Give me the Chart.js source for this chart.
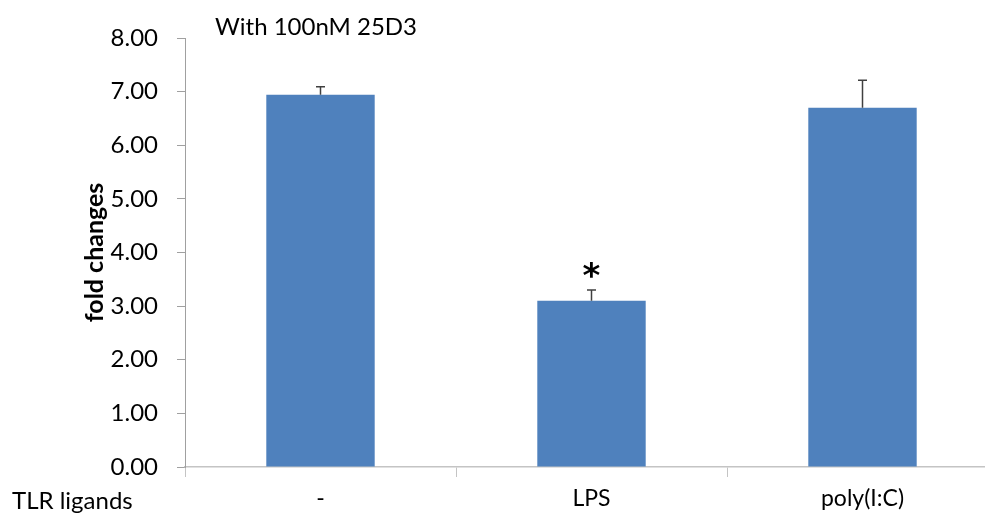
<!DOCTYPE html>
<html>
<head>
<meta charset="utf-8">
<script src="https://cdn.jsdelivr.net/npm/chart.js@4"></script>
<style>
  html, body { margin: 0; padding: 0; background: #fff; overflow: hidden; }
  #wrap { position: relative; width: 1000px; height: 516px; }
</style>
</head>
<body>
<div id="wrap"><canvas id="chart"></canvas></div>
<script>
// values
const categories = ['-', 'LPS', 'poly(I:C)'];
const foldChanges = [6.94, 3.10, 6.70];
const errorUp = [0.15, 0.20, 0.51];
const significance = ['', '*', ''];
const yTicks = [0, 1, 2, 3, 4, 5, 6, 7, 8];
const chartTitle = 'With 100nM 25D3';
const xAxisName = 'TLR ligands';
const yAxisName = 'fold changes';

const FONT = 'Lato, "Open Sans", sans-serif';

// one-sided error bars + significance marks
const errorBars = {
  id: 'errorBars',
  afterDatasetsDraw(chart) {
    const ctx = chart.ctx;
    const y = chart.scales.y;
    const meta = chart.getDatasetMeta(0);
    ctx.save();
    meta.data.forEach((bar, i) => {
      const top = y.getPixelForValue(foldChanges[i] + errorUp[i]);
      ctx.strokeStyle = '#404040';
      ctx.lineWidth = 1.5;
      ctx.beginPath();
      ctx.moveTo(bar.x, bar.y);
      ctx.lineTo(bar.x, top);
      ctx.moveTo(bar.x - 4.5, top);
      ctx.lineTo(bar.x + 4.5, top);
      ctx.stroke();
      if (significance[i]) {
        ctx.fillStyle = '#000';
        ctx.font = 'bold 34px "DejaVu Sans", sans-serif';
        ctx.textAlign = 'center';
        ctx.textBaseline = 'alphabetic';
        // centre the glyph itself 20px above the error cap
        const m = ctx.measureText(significance[i]);
        const cy = top - 20;
        ctx.fillText(significance[i], bar.x, cy + (m.actualBoundingBoxAscent - m.actualBoundingBoxDescent) / 2);
      }
    });
    ctx.restore();
  }
};

// free text: title and x-axis name
const labels = {
  id: 'labels',
  afterDraw(chart) {
    const ctx = chart.ctx;
    ctx.save();
    ctx.fillStyle = '#000';
    ctx.font = '24px ' + FONT;
    ctx.textAlign = 'left';
    ctx.textBaseline = 'middle';
    ctx.fillText(chartTitle, 215, 27);
    ctx.fillText(xAxisName, 12, 501);
    ctx.restore();
  }
};

new Chart(document.getElementById('chart'), {
  type: 'bar',
  data: {
    labels: categories,
    datasets: [{
      data: foldChanges,
      backgroundColor: '#4F81BD',
      borderWidth: 0,
      barPercentage: 0.4,
      categoryPercentage: 1.0
    }]
  },
  options: {
    responsive: true,
    maintainAspectRatio: false,
    animation: false,
    layout: { padding: { top: 38, left: 80, right: 2, bottom: 0 } },
    plugins: {
      legend: { display: false },
      tooltip: { enabled: false }
    },
    scales: {
      x: {
        afterFit(scale) { scale.height = 49; },
        grid: {
          offset: true,
          drawOnChartArea: false,
          drawTicks: true,
          tickLength: 10,
          color: '#c4c4c4'
        },
        border: { color: '#c4c4c4', width: 1.5 },
        ticks: {
          color: '#000',
          padding: 8,
          font: { family: FONT, size: 23 },
          maxRotation: 0
        }
      },
      y: {
        min: 0,
        max: 8,
        afterFit(scale) { scale.width = 105; },
        afterBuildTicks(scale) { scale.ticks = yTicks.map(v => ({ value: v })); },
        grid: {
          drawOnChartArea: false,
          drawTicks: true,
          tickLength: 8,
          color: '#a0a0a0'
        },
        border: { color: '#a0a0a0', width: 1 },
        ticks: {
          color: '#000',
          padding: 19,
          font: { family: FONT, size: 24 },
          callback: v => Number(v).toFixed(2)
        },
        title: {
          display: true,
          text: yAxisName,
          color: '#000',
          padding: 0,
          font: { family: FONT, size: 25, weight: 'bold' }
        }
      }
    }
  },
  plugins: [errorBars, labels]
});
</script>
</body>
</html>
